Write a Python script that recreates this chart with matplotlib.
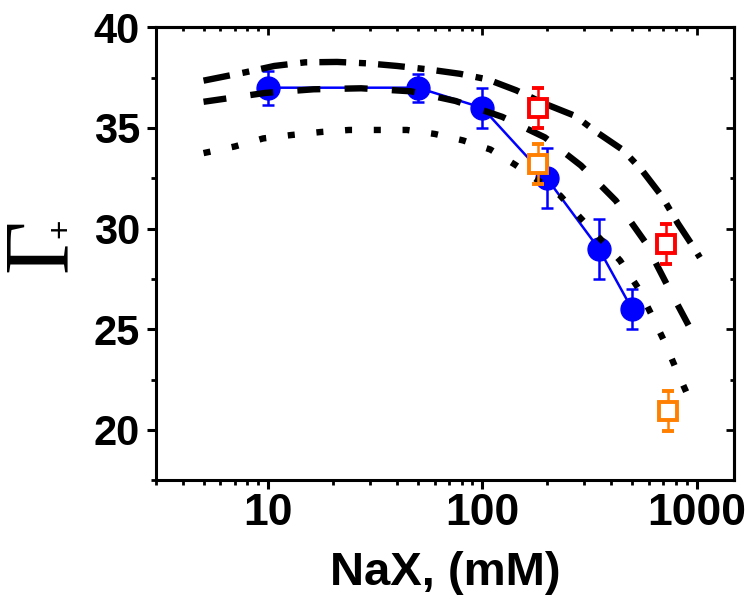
import matplotlib
matplotlib.use('Agg')
import matplotlib.pyplot as plt
from matplotlib.ticker import MultipleLocator, LogLocator, NullFormatter

plt.rcParams['font.family'] = ['Liberation Sans', 'DejaVu Sans']
plt.rcParams['font.weight'] = 'bold'

# measured points (blue circles)
nax_conc = [10, 50, 100, 200, 350, 500]
gamma_meas = [37.0, 37.0, 36.0, 32.5, 29.0, 26.0]
gamma_err = [0.85, 0.7, 1.0, 1.5, 1.5, 1.0]

# open squares
red_x = [182, 720]
red_y = [36.0, 29.25]
red_err = [1.0, 1.0]
orange_x = [182, 735]
orange_y = [33.2, 20.95]
orange_err = [1.0, 1.0]

# model curves
dashdot_x = [5, 7.8, 10.7, 14.9, 21, 29, 40, 55.8, 78.7, 106, 144, 196, 271,
             343, 454, 556, 690, 819, 972, 1037]
dashdot_y = [37.35, 37.76, 38.08, 38.26, 38.28, 38.21, 38.08, 37.91, 37.69,
             37.41, 36.87, 36.2, 35.6, 34.78, 33.9, 32.9, 31.6, 30.25, 29.05,
             28.56]
dashed_x = [5, 9.7, 16.3, 27.2, 46.5, 75, 124, 196, 289, 420, 574, 728, 931,
            1016]
dashed_y = [36.3, 36.74, 36.92, 36.97, 36.82, 36.34, 35.55, 34.53, 33.13,
            31.39, 29.35, 27.21, 25.07, 24.33]
dotted_x = [5, 7.0, 9.5, 12.9, 17.7, 23.9, 32.6, 44.5, 60.1, 81.3, 109, 142,
            231, 286, 362, 440, 533, 620, 712, 802, 912]
dotted_y = [33.75, 34.08, 34.48, 34.65, 34.80, 34.90, 34.90, 34.90, 34.70,
            34.38, 33.93, 33.18, 31.64, 30.55, 29.40, 28.41, 27.06, 25.67,
            24.33, 23.03, 21.69]

fig = plt.figure(figsize=(7.5, 6.07), dpi=100)
ax = fig.add_axes([0.208, 0.209, 0.771, 0.746])

ax.errorbar(nax_conc, gamma_meas, yerr=gamma_err, fmt='o-', color='#0000ff',
            ms=16.5, lw=1.8, elinewidth=1.8, capsize=4.3, capthick=1.8,
            zorder=2)

ax.plot(dashdot_x, dashdot_y, color='k', lw=4.6, dashes=(4.2, 2.0, 1.1, 1.9),
        zorder=3)
ax.plot(dashed_x, dashed_y, color='k', lw=4.6, dashes=(3.6, 3.8), zorder=3)
ax.plot(dotted_x, dotted_y, color='k', lw=4.6, dashes=(1.1, 3.4), zorder=3)

ax.errorbar(red_x, red_y, yerr=red_err, fmt='s', mfc='white', mec='#ff0000',
            mew=2.8, ms=13.5, ecolor='#ff0000', elinewidth=1.8, capsize=4.3,
            capthick=1.8, zorder=4)
ax.errorbar(orange_x, orange_y, yerr=orange_err, fmt='s', mfc='white',
            mec='#ff7f00', mew=2.8, ms=13.5, ecolor='#ff7f00', elinewidth=1.8,
            capsize=4.3, capthick=1.8, zorder=4)

ax.set_xscale('log')
ax.set_xlim(3, 1500)
ax.set_ylim(17.5, 40)
ax.yaxis.set_major_locator(MultipleLocator(5))
ax.yaxis.set_minor_locator(MultipleLocator(2.5))
ax.xaxis.set_minor_locator(LogLocator(base=10, subs=range(2, 10), numticks=10))
ax.xaxis.set_minor_formatter(NullFormatter())
ax.set_xticks([10, 100, 1000])
ax.set_xticklabels(['10', '100', '1000'])

for sp in ax.spines.values():
    sp.set_linewidth(2.2)

ax.tick_params(axis='both', which='major', direction='out', length=6.5,
               width=2.2)
ax.tick_params(axis='both', which='minor', direction='out', length=3.5,
               width=2)
ax.tick_params(axis='x', labelsize=32, pad=3)
ax.tick_params(axis='y', labelsize=30, pad=5)

top = ax.secondary_xaxis('top')
top.xaxis.set_minor_locator(LogLocator(base=10, subs=range(2, 10), numticks=10))
top.tick_params(which='major', direction='in', length=6, width=2,
                labeltop=False)
top.tick_params(which='minor', direction='in', length=3, width=2)
top.xaxis.set_minor_formatter(NullFormatter())
top.set_xticks([10, 100, 1000])
top.set_xticklabels([])

right = ax.secondary_yaxis('right')
right.yaxis.set_major_locator(MultipleLocator(5))
right.yaxis.set_minor_locator(MultipleLocator(2.5))
right.tick_params(which='major', direction='in', length=6, width=2,
                  labelright=False)
right.tick_params(which='minor', direction='in', length=3, width=2)
right.set_yticklabels([])
for s in (top, right):
    for sp in s.spines.values():
        sp.set_linewidth(2.2)

ax.set_xlabel('NaX, (mM)', fontsize=34, fontweight='bold', labelpad=12)

fig.text(0.058, 0.596, '\u0393', family='Liberation Serif', fontsize=67,
         fontweight='normal', rotation=90, ha='center', va='center')
fig.text(0.0813, 0.6245, '+', fontsize=24, fontweight='normal', rotation=90,
         ha='center', va='center')

fig.savefig('out.png', dpi=100)
